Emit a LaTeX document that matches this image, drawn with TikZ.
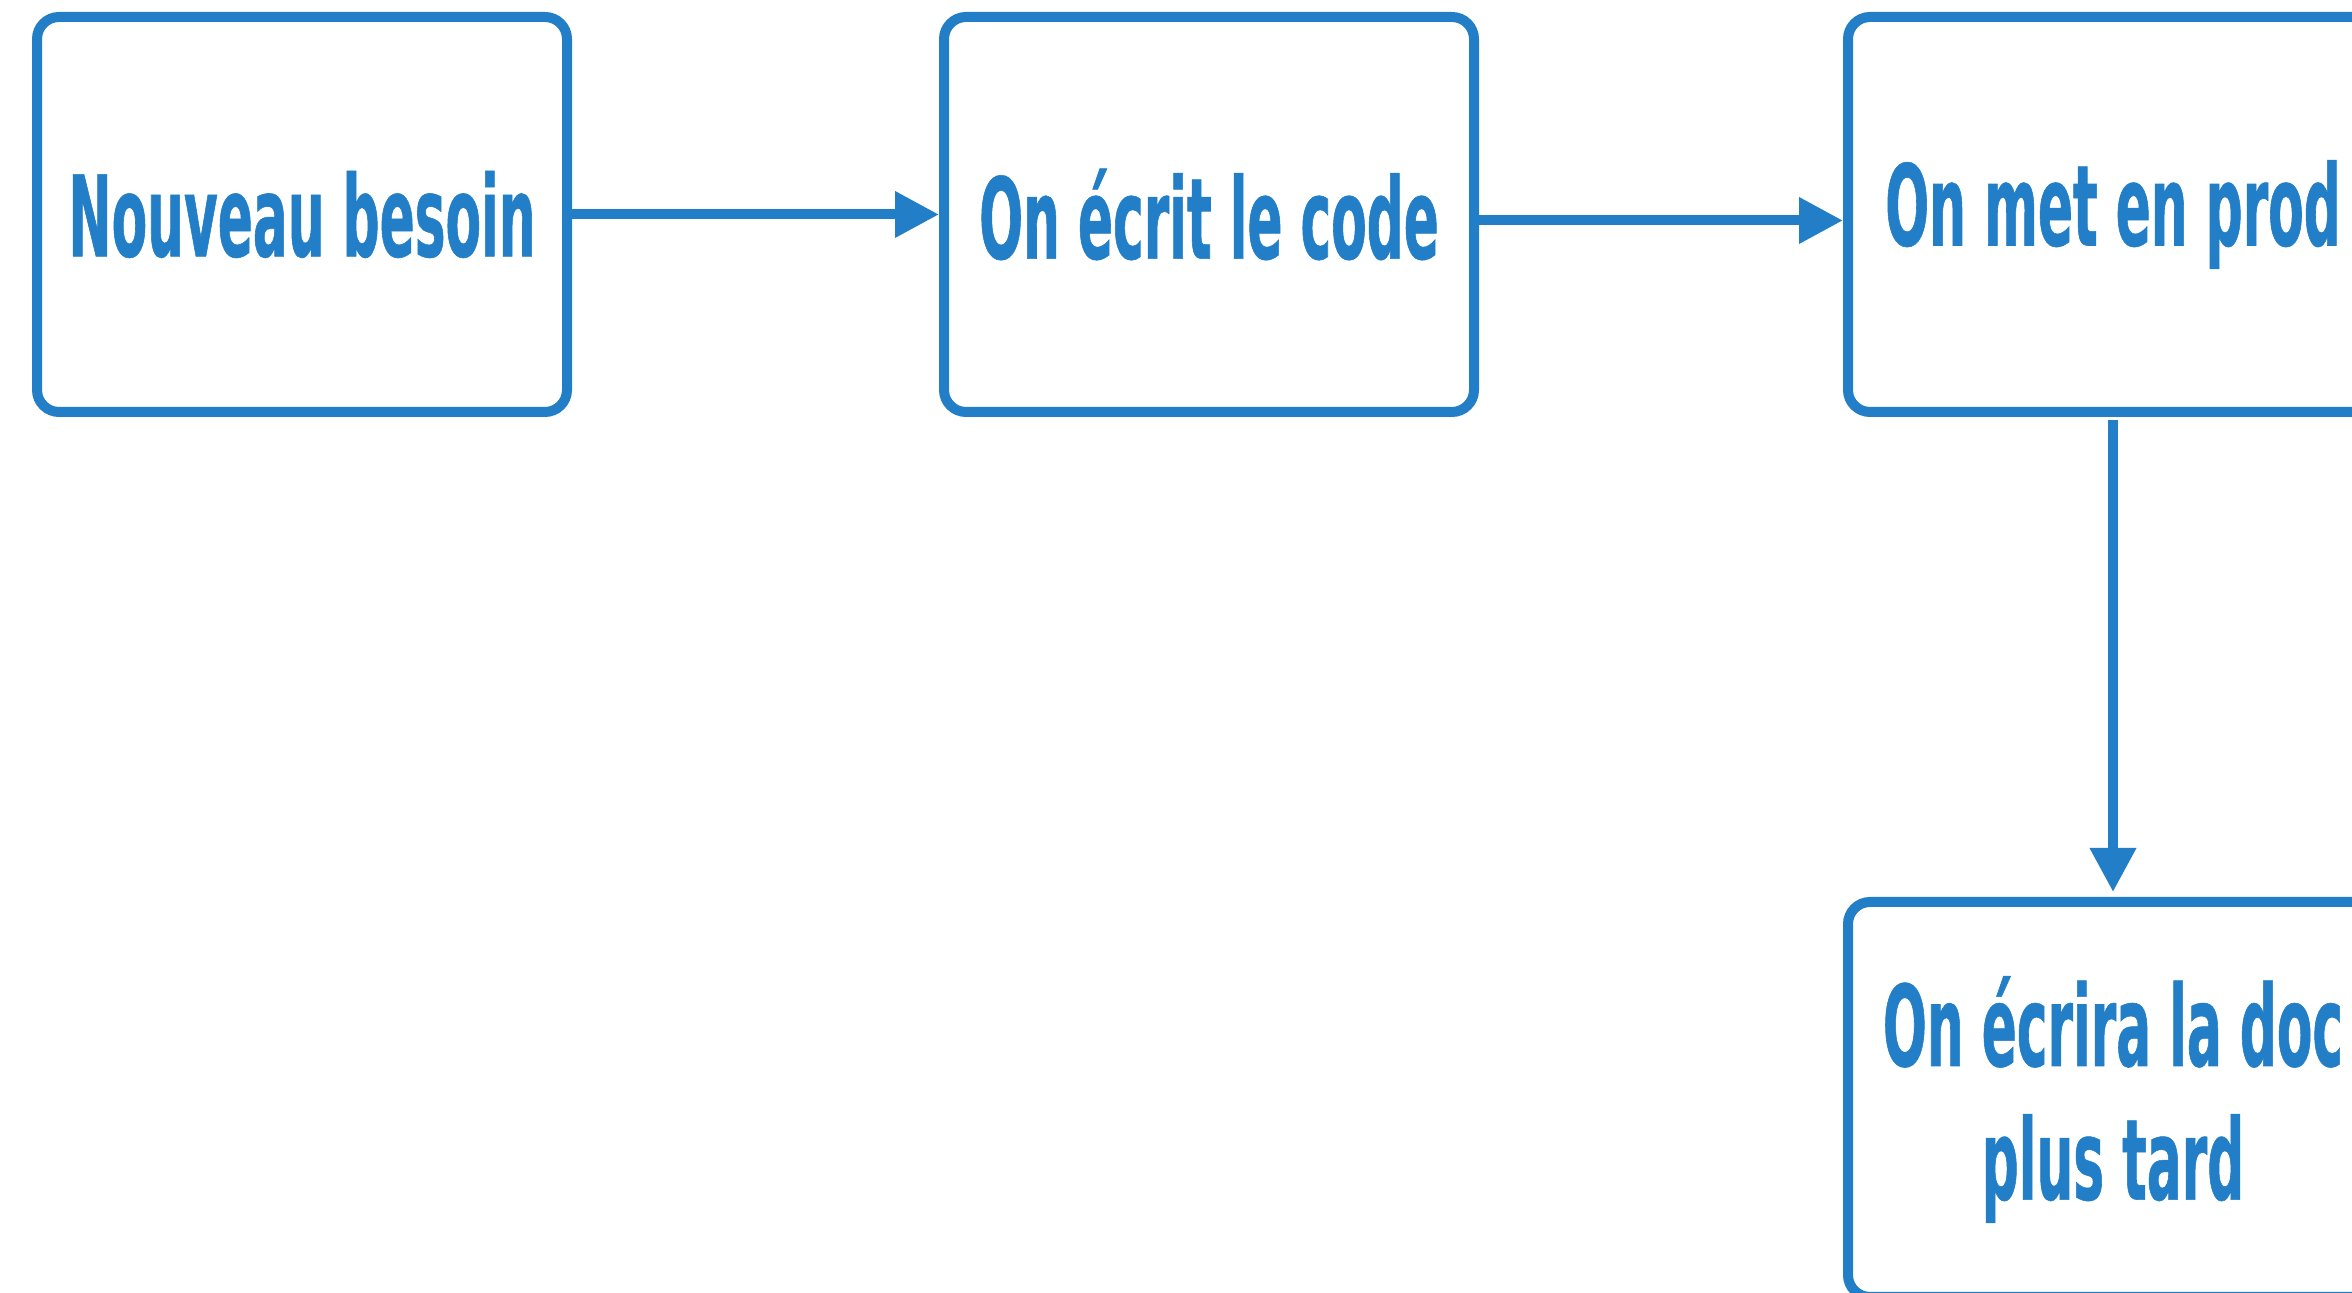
\documentclass[tikz,border=0pt]{standalone}
\usepackage{fontspec}
\usetikzlibrary{arrows.meta}
\newfontfamily\boxfont[FakeStretch=0.46,FakeBold=0.5]{DejaVu Sans}
\definecolor{flowblue}{RGB}{34,126,198}
\begin{document}
\begin{tikzpicture}[x=0.1mm,y=-0.1mm,
  stepbox/.style={draw=flowblue, line width=1mm, rounded corners=2.2mm,
    minimum width=53mm, minimum height=39.5mm, inner sep=0pt,
    align=center, text=flowblue,
    font=\boxfont\bfseries\fontsize{32pt}{38pt}\selectfont},
  flowarrow/.style={draw=flowblue, line width=1mm,
    -{Triangle[length=4.4mm,width=4.4mm]}}]
\useasboundingbox (0,0) rectangle (2352,1293);

\node[stepbox] (besoin) at (302,214.5) {Nouveau besoin};
\node[stepbox] (code)   at (1209,214.5) {On écrit le code};
\node[stepbox] (prod)   at (2113,214.5) {On met en prod};
\node[stepbox] (doc)    at (2113,1099.5) {On écrira la doc\\plus tard};

\draw[flowarrow] (besoin.east) -- (code.west);
\draw[flowarrow] ([yshift=-0.6mm]code.east) -- ([yshift=-0.6mm]prod.west);
\draw[flowarrow, shorten <=0.3mm, shorten >=0.5mm] (prod.south) -- (doc.north);
\end{tikzpicture}
\end{document}
